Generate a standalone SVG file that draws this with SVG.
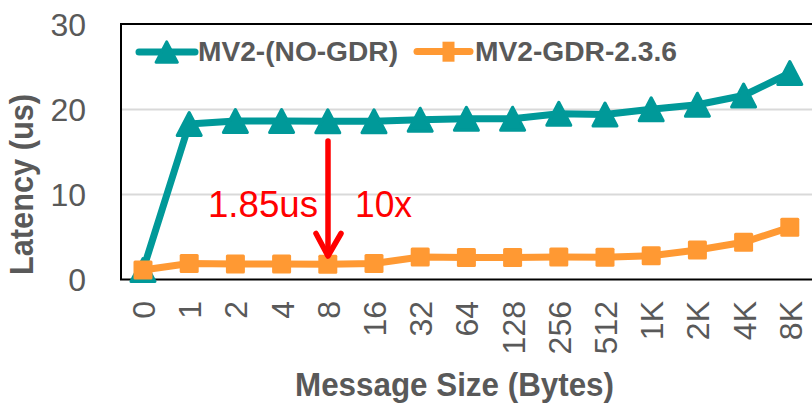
<svg xmlns="http://www.w3.org/2000/svg" xmlns:xlink="http://www.w3.org/1999/xlink" width="812" height="404" viewBox="0 0 812 404">
<style>
.grid{stroke:#D9D9D9;stroke-width:2;fill:none}
.frame{stroke:#000;stroke-width:2;fill:none}
.tick{font-family:"Liberation Sans",Arial,sans-serif;font-size:32px;fill:#595959}
.title{font-family:"Liberation Sans",Arial,sans-serif;font-size:33px;font-weight:bold;fill:#595959}
.leg{font-family:"Liberation Sans",Arial,sans-serif;font-size:27px;font-weight:bold;fill:#595959}
.ann{font-family:"Liberation Sans",Arial,sans-serif;font-size:36px;fill:#FF0000}
.teal{stroke:#009999;stroke-width:7;fill:none;stroke-linejoin:round;stroke-linecap:round}
.orange{stroke:#FF9933;stroke-width:7;fill:none;stroke-linejoin:round;stroke-linecap:round}
.arrow{stroke:#FF0000;stroke-width:5.5;fill:none;stroke-linecap:round;stroke-linejoin:round}
</style>
<defs>
<polygon id="tri" points="0,-11.5 12,11.5 -12,11.5" fill="#009999" stroke="#009999" stroke-width="3" stroke-linejoin="round"/>
<rect id="sq" x="-9.5" y="-9.5" width="19" height="19" rx="1.5" fill="#FF9933"/>
</defs>
<g id="gridlines">
<line class="grid" x1="121" y1="109.5" x2="812" y2="109.5"/>
<line class="grid" x1="121" y1="194.5" x2="812" y2="194.5"/>
</g>
<g id="plot-frame">
<rect class="frame" x="121" y="24" width="700" height="255.5"/>
</g>
<g id="y-axis-labels">
<text class="tick" x="86" y="35.5" text-anchor="end">30</text>
<text class="tick" x="86" y="121" text-anchor="end">20</text>
<text class="tick" x="86" y="206" text-anchor="end">10</text>
<text class="tick" x="86" y="291" text-anchor="end">0</text>
</g>
<g id="y-axis-title">
<text class="title" transform="translate(33,184.5) rotate(-90)" text-anchor="middle" textLength="181" lengthAdjust="spacingAndGlyphs">Latency (us)</text>
</g>
<g id="x-axis-labels">
<text class="tick" transform="translate(155,301) rotate(-90)" text-anchor="end">0</text>
<text class="tick" transform="translate(201.2,301) rotate(-90)" text-anchor="end">1</text>
<text class="tick" transform="translate(247.4,301) rotate(-90)" text-anchor="end">2</text>
<text class="tick" transform="translate(293.6,301) rotate(-90)" text-anchor="end">4</text>
<text class="tick" transform="translate(339.8,301) rotate(-90)" text-anchor="end">8</text>
<text class="tick" transform="translate(386,301) rotate(-90)" text-anchor="end">16</text>
<text class="tick" transform="translate(432.2,301) rotate(-90)" text-anchor="end">32</text>
<text class="tick" transform="translate(478.4,301) rotate(-90)" text-anchor="end">64</text>
<text class="tick" transform="translate(524.6,301) rotate(-90)" text-anchor="end">128</text>
<text class="tick" transform="translate(570.8,301) rotate(-90)" text-anchor="end">256</text>
<text class="tick" transform="translate(617,301) rotate(-90)" text-anchor="end">512</text>
<text class="tick" transform="translate(663.2,301) rotate(-90)" text-anchor="end">1K</text>
<text class="tick" transform="translate(709.4,301) rotate(-90)" text-anchor="end">2K</text>
<text class="tick" transform="translate(755.6,301) rotate(-90)" text-anchor="end">4K</text>
<text class="tick" transform="translate(801.8,301) rotate(-90)" text-anchor="end">8K</text>
</g>
<g id="x-axis-title">
<text class="title" x="454.5" y="396" text-anchor="middle" textLength="319" lengthAdjust="spacingAndGlyphs">Message Size (Bytes)</text>
</g>
<g id="series-mv2-no-gdr">
<polyline class="teal" points="143,270 189.2,124 235.4,121 281.6,121 327.8,121.3 374,121.3 420.2,119.7 466.4,118.8 512.6,118.7 558.8,113.8 605,114.5 651.2,109.3 697.4,104.7 743.6,95.5 789.8,73"/>
<use xlink:href="#tri" x="143" y="270"/>
<use xlink:href="#tri" x="189.2" y="124"/>
<use xlink:href="#tri" x="235.4" y="121"/>
<use xlink:href="#tri" x="281.6" y="121"/>
<use xlink:href="#tri" x="327.8" y="121.3"/>
<use xlink:href="#tri" x="374" y="121.3"/>
<use xlink:href="#tri" x="420.2" y="119.7"/>
<use xlink:href="#tri" x="466.4" y="118.8"/>
<use xlink:href="#tri" x="512.6" y="118.7"/>
<use xlink:href="#tri" x="558.8" y="113.8"/>
<use xlink:href="#tri" x="605" y="114.5"/>
<use xlink:href="#tri" x="651.2" y="109.3"/>
<use xlink:href="#tri" x="697.4" y="104.7"/>
<use xlink:href="#tri" x="743.6" y="95.5"/>
<use xlink:href="#tri" x="789.8" y="73"/>
</g>
<g id="series-mv2-gdr">
<polyline class="orange" points="143,270 189.2,263.5 235.4,264 281.6,264 327.8,264.3 374,263.5 420.2,257 466.4,257.5 512.6,257.5 558.8,257 605,257.3 651.2,255.7 697.4,250 743.6,242.3 789.8,227.3"/>
<use xlink:href="#sq" x="143" y="270"/>
<use xlink:href="#sq" x="189.2" y="263.5"/>
<use xlink:href="#sq" x="235.4" y="264"/>
<use xlink:href="#sq" x="281.6" y="264"/>
<use xlink:href="#sq" x="327.8" y="264.3"/>
<use xlink:href="#sq" x="374" y="263.5"/>
<use xlink:href="#sq" x="420.2" y="257"/>
<use xlink:href="#sq" x="466.4" y="257.5"/>
<use xlink:href="#sq" x="512.6" y="257.5"/>
<use xlink:href="#sq" x="558.8" y="257"/>
<use xlink:href="#sq" x="605" y="257.3"/>
<use xlink:href="#sq" x="651.2" y="255.7"/>
<use xlink:href="#sq" x="697.4" y="250"/>
<use xlink:href="#sq" x="743.6" y="242.3"/>
<use xlink:href="#sq" x="789.8" y="227.3"/>
</g>
<g id="legend">
<line class="teal" x1="139" y1="52" x2="195" y2="52"/>
<use xlink:href="#tri" transform="translate(166.7,52) scale(0.9)"/>
<text class="leg" x="198" y="60.5" textLength="200" lengthAdjust="spacingAndGlyphs">MV2-(NO-GDR)</text>
<line class="orange" x1="417" y1="51.5" x2="470" y2="51.5"/>
<rect x="442.5" y="41.7" width="12" height="20" fill="#FF9933"/>
<text class="leg" x="475" y="60.5" textLength="202" lengthAdjust="spacingAndGlyphs">MV2-GDR-2.3.6</text>
</g>
<g id="connectors">
<path class="arrow" d="M328,141 L328,255"/>
<path class="arrow" d="M316,233.5 L328,256 L341,233.5"/>
</g>
<g id="annotations">
<text class="ann" x="208" y="217.3" textLength="110" lengthAdjust="spacingAndGlyphs">1.85us</text>
<text class="ann" x="355" y="217.3" textLength="57" lengthAdjust="spacingAndGlyphs">10x</text>
</g>
</svg>
